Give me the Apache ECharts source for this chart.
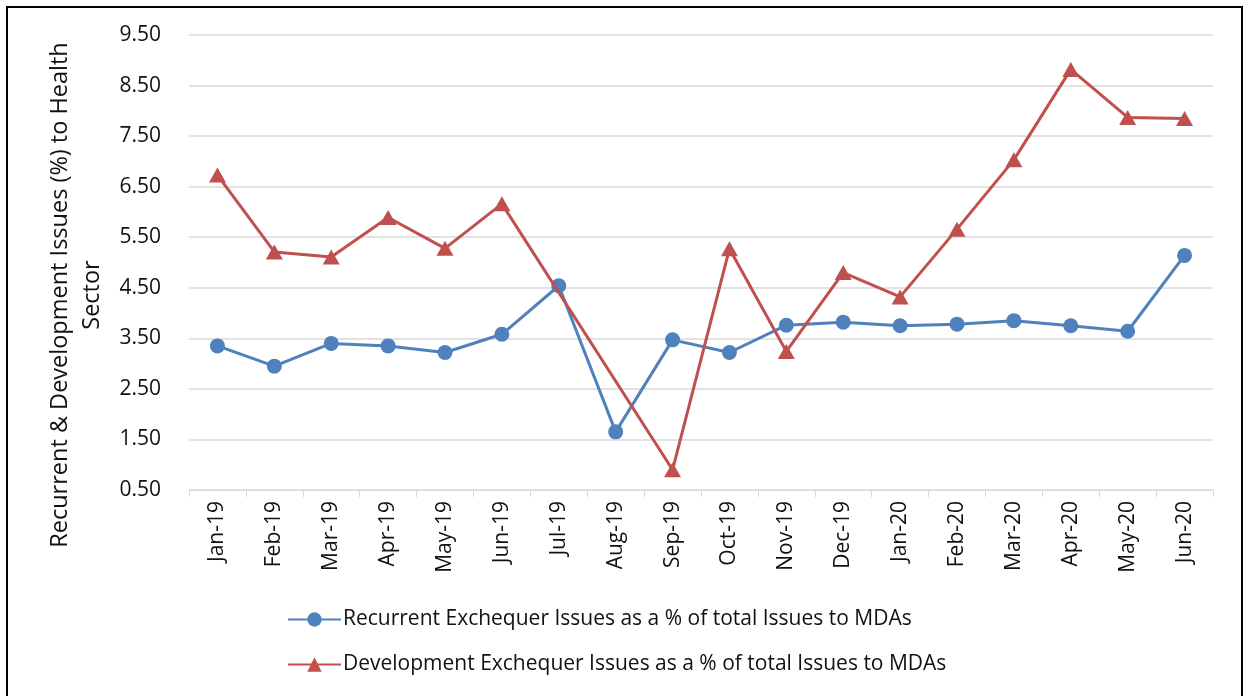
<!DOCTYPE html>
<html>
<head>
<meta charset="utf-8">
<script src="https://cdn.jsdelivr.net/npm/echarts@6/dist/echarts.min.js"></script>
<style>
  html, body { margin: 0; padding: 0; background: #fff; }
  #chart { width: 1244px; height: 696px; }
</style>
</head>
<body>
<div id="chart"></div>
<script>
// Monthly exchequer issues to the health sector, as a share of total issues to MDAs
const months = ['Jan-19', 'Feb-19', 'Mar-19', 'Apr-19', 'May-19', 'Jun-19', 'Jul-19', 'Aug-19', 'Sep-19',
  'Oct-19', 'Nov-19', 'Dec-19', 'Jan-20', 'Feb-20', 'Mar-20', 'Apr-20', 'May-20', 'Jun-20'];
const recurrentShare = [3.35, 2.95, 3.40, 3.35, 3.22, 3.58, 4.54, 1.65, 3.47,
  3.22, 3.76, 3.82, 3.75, 3.78, 3.85, 3.75, 3.64, 5.14];
// No development figures were recorded for Jul-19 and Aug-19
const developmentShare = [6.73, 5.21, 5.11, 5.89, 5.28, 6.16, null, null, 0.90,
  5.27, 3.24, 4.80, 4.32, 5.66, 7.03, 8.82, 7.87, 7.85];
const seriesNames = [
  'Recurrent Exchequer Issues as a % of total Issues to MDAs',
  'Development Exchequer Issues as a % of total Issues to MDAs'
];
const yAxisTitle = ['Recurrent & Development Issues (%) to Health', 'Sector'];

const FONT = '"Open Sans", "Noto Sans", sans-serif';
const TEXT = '#111';
const GRID = '#D9D9D9';
const BLUE = '#4F81BD';
const RED = '#C0504D';

const chart = echarts.init(document.getElementById('chart'));
chart.setOption({
  animation: false,
  backgroundColor: '#fff',
  textStyle: { fontFamily: FONT, color: TEXT },
  grid: { left: 189, right: 31, top: 35, bottom: 206, containLabel: false },
  legend: {
    orient: 'vertical',
    left: 282,
    top: 604,
    itemWidth: 53,
    itemHeight: 18,
    itemGap: 24,
    textStyle: { fontFamily: FONT, fontSize: 21, color: TEXT, padding: [0, 0, 0, -3] },
    data: seriesNames
  },
  xAxis: {
    type: 'category',
    data: months,
    boundaryGap: true,
    axisLine: { show: true, lineStyle: { color: GRID, width: 1 } },
    axisTick: { show: true, alignWithLabel: false, length: 7, lineStyle: { color: GRID } },
    axisLabel: { rotate: 90, interval: 0, margin: 11, fontFamily: FONT, fontSize: 21, color: TEXT }
  },
  yAxis: {
    type: 'value',
    min: 0.5,
    max: 9.5,
    interval: 0.5,
    axisLine: { show: false },
    axisTick: { show: false },
    // gridlines only on the .50 ticks
    splitLine: { show: true, lineStyle: { color: [GRID, 'rgba(0,0,0,0)'], width: 1.5 } },
    axisLabel: {
      margin: 28,
      fontFamily: FONT,
      fontSize: 21,
      color: TEXT,
      formatter: function (v) {
        return Math.abs((v % 1) - 0.5) < 1e-6 ? v.toFixed(2) : '';
      }
    }
  },
  series: [
    {
      name: seriesNames[0],
      type: 'line',
      data: recurrentShare,
      symbol: 'circle',
      symbolSize: 15,
      itemStyle: { color: BLUE },
      lineStyle: { color: BLUE, width: 3 },
      z: 2
    },
    {
      name: seriesNames[1],
      type: 'line',
      data: developmentShare,
      connectNulls: true,
      symbol: 'triangle',
      symbolSize: [17, 15],
      itemStyle: { color: RED },
      lineStyle: { color: RED, width: 3 },
      z: 3
    }
  ],
  graphic: [
    {
      type: 'rect',
      shape: { x: 7, y: 7, width: 1235, height: 720 },
      style: { fill: 'none', stroke: '#000', lineWidth: 2 },
      silent: true
    },
    {
      type: 'text',
      x: 60,
      y: 295,
      rotation: Math.PI / 2,
      style: {
        text: yAxisTitle[0],
        font: '23.5px ' + FONT,
        fill: TEXT,
        align: 'center',
        verticalAlign: 'middle'
      }
    },
    {
      type: 'text',
      x: 92,
      y: 295,
      rotation: Math.PI / 2,
      style: {
        text: yAxisTitle[1],
        font: '23.5px ' + FONT,
        fill: TEXT,
        align: 'center',
        verticalAlign: 'middle'
      }
    }
  ]
});
</script>
</body>
</html>
